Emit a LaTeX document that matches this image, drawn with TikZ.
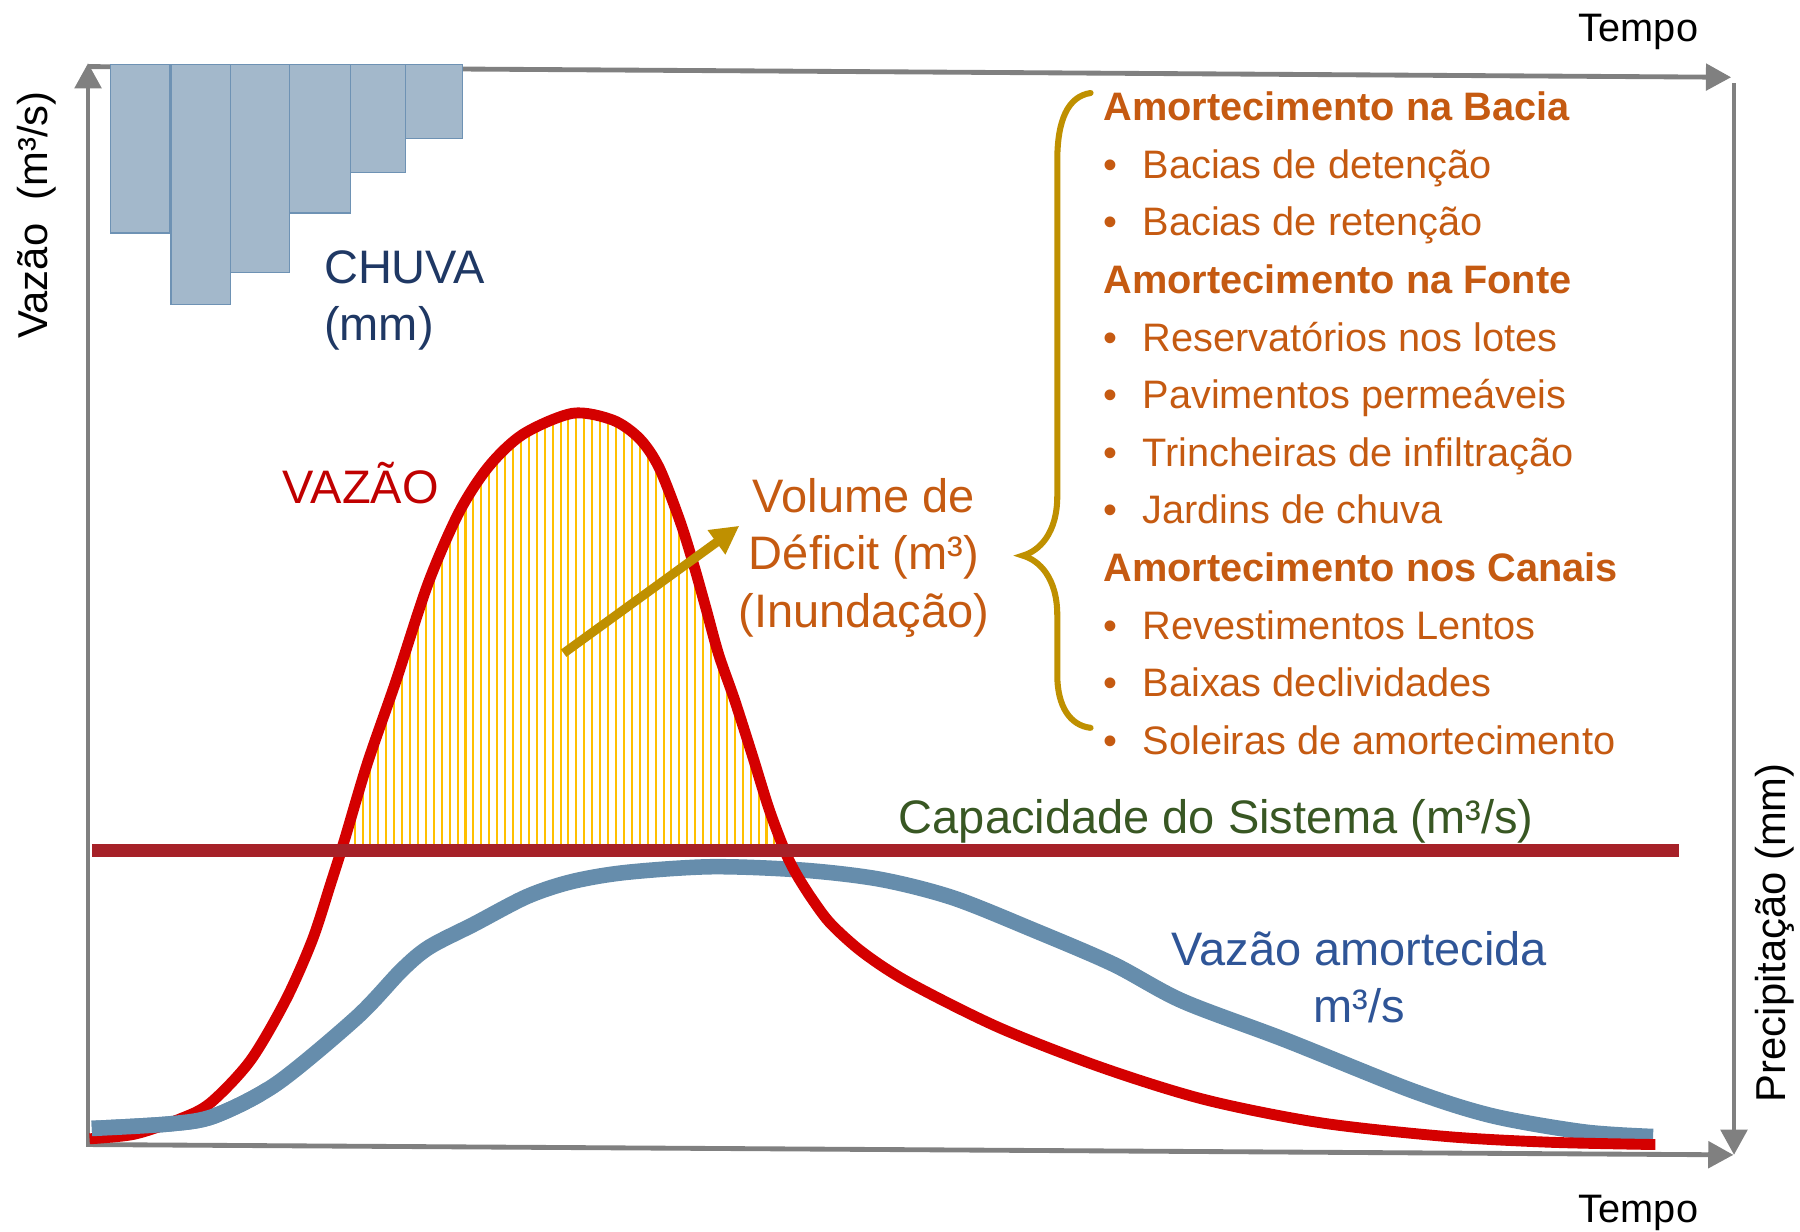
\documentclass[tikz,border=0pt]{standalone}
\usepackage{fontspec}
\setmainfont{Liberation Sans}
\usetikzlibrary{arrows.meta}
\definecolor{axisgray}{RGB}{128,128,128}
\definecolor{rainfill}{RGB}{163,184,203}
\definecolor{rainedge}{RGB}{110,146,180}
\definecolor{peakred}{RGB}{212,0,0}
\definecolor{labelred}{RGB}{192,0,0}
\definecolor{capred}{RGB}{166,33,40}
\definecolor{dampblue}{RGB}{102,141,172}
\definecolor{hatchyellow}{RGB}{255,192,0}
\definecolor{gold}{RGB}{191,144,0}
\definecolor{rust}{RGB}{197,90,17}
\definecolor{navy}{RGB}{31,56,100}
\definecolor{moss}{RGB}{56,87,35}
\definecolor{steel}{RGB}{47,85,151}
\def\vazaocurve{plot[smooth] coordinates {(78,992) (117,988) (156,975) (183,961) (218,924) (249,871) (272,819) (288,770) (300,732) (320,665) (345,593) (373,508) (400,446) (426,406) (456,378) (499,360) (534,366) (557,382) (574,407) (592,453) (604,491) (615,530) (626,570) (640,610) (656,660) (670,705) (684,742) (694,762) (708,784) (724,805) (752,830) (792,856) (870,895) (960,930) (1050,958) (1150,978) (1260,990) (1350,995) (1442,997)}}
\def\amortecidacurve{plot[smooth] coordinates {(80,983) (148,979) (187,972) (241,944) (311,886) (350,845) (374,825) (413,805) (459,781) (498,768) (545,760) (620,755) (700,758) (767,766) (830,782) (900,810) (970,840) (1030,872) (1120,906) (1230,950) (1300,972) (1380,986) (1440,990)}}
\newcommand{\bulletline}[3]{\node[listitem] (#1) at (995,#2) {\llap{\textbullet\hspace{12.7pt}}#3};}

\begin{document}
\begin{tikzpicture}[x=0.02cm, y=-0.02cm,
    axis/.style={axisgray, line width=2.4pt, -{Triangle[length=12.5pt,width=13pt]}},
    rainbar/.style={fill=rainfill, draw=rainedge, line width=0.6pt},
    axislabel/.style={inner sep=0pt, anchor=base west, font=\fontsize{19.7}{24}\selectfont},
    sidelabel/.style={inner sep=0pt, rotate=90, anchor=base, font=\fontsize{20.7}{24}\selectfont},
    biglabel/.style={inner sep=0pt, anchor=base, font=\fontsize{23.3}{28}\selectfont},
    heading/.style={inner sep=0pt, anchor=base west, text=rust, font=\fontsize{19.7}{24}\selectfont\bfseries},
    listitem/.style={inner sep=0pt, anchor=base west, text=rust, font=\fontsize{19.7}{24}\selectfont},
    hatchline/.style={hatchyellow, line width=1pt}]
  \useasboundingbox (0,0) rectangle (1568,1073);

  %axes
  \draw[axis] (76.7,999) -- (76.7,55);
  \draw[axis] (76.7,58) -- (1508,67.3);
  \draw[axis] (1510.5,72.6) -- (1510.5,1006);
  \draw[axis] (75.5,997) -- (1510,1006);

  %rain bars hanging from the top axis
  \foreach \xa/\xb/\yb in {96/148/203, 149/201/265, 201/252/237.5, 252/305/185.5, 305/353/150.6, 353/403/120.6}
    \draw[rainbar] (\xa,56) rectangle (\xb,\yb);

  %hatched volume above the capacity
  \begin{scope}
    \clip \vazaocurve -- cycle;
    \clip (0,0) rectangle (1568,735);
    \foreach \x in {302,308.9,...,690}
      \draw[hatchline] (\x,340) -- (\x,740);
  \end{scope}

  %hydrographs
  \draw[dampblue, line width=7.7pt] \amortecidacurve;
  \draw[peakred, line width=5.4pt] \vazaocurve;
  \begin{scope}
    \clip (0,930) rectangle (230,1073);
    \draw[dampblue, line width=7.7pt] \amortecidacurve;
  \end{scope}
  \draw[capred, line width=6.5pt] (80,741) -- (1463,741);

  %arrow to the deficit text
  \coordinate (deficitstart) at (491,569);
  \coordinate (deficittip) at (644,458);
  \draw[gold, line width=4.5pt, -{Triangle[length=14pt,width=14pt]}] (deficitstart) -- (deficittip);

  %brace
  \draw[gold, line width=3pt, line cap=round] (950,81) .. controls (930,84) and (921,105) .. (921,140) -- (921,432)
    .. controls (921,465) and (905,480) .. (891,484) .. controls (905,488) and (921,503) .. (921,536) -- (921,588)
    .. controls (921,615) and (932,632) .. (950,634);

  %labels
  \node[axislabel] (tempotop) at (1375,36) {Tempo};
  \node[axislabel] (tempobottom) at (1375,1065) {Tempo};
  \node[sidelabel] (vazaoaxis) at (41.7,187.5) {Vazão~ (m³/s)};
  \node[sidelabel] (precipaxis) at (1555,812.5) {Precipitação (mm)};
  \node[biglabel, anchor=base west, text=navy] (chuva) at (282,247) {CHUVA};
  \node[biglabel, anchor=base west, text=navy] (chuvamm) at (282,296.5) {(mm)};
  \node[biglabel, anchor=base west, text=labelred] (vazao) at (246,439) {VAZÃO};
  \node[biglabel, text=rust] (volume) at (752.5,446) {Volume de};
  \node[biglabel, text=rust] (deficit) at (752.5,496.5) {Déficit (m³)};
  \node[biglabel, text=rust] (inundacao) at (752.5,546.5) {(Inundação)};
  \node[biglabel, text=moss] (capacidade) at (1059.5,726) {Capacidade do Sistema (m³/s)};
  \node[biglabel, text=steel] (amortecida) at (1184,841) {Vazão amortecida};
  \node[biglabel, text=steel] (amortecidaunit) at (1184,891) {m³/s};

  %list of measures
  \node[heading] (bacia) at (961,105) {Amortecimento na Bacia};
  \bulletline{detencao}{155.2}{Bacias de detenção}
  \bulletline{retencao}{205.4}{Bacias de retenção}
  \node[heading] (fonte) at (961,255.6) {Amortecimento na Fonte};
  \bulletline{lotes}{305.8}{Reservatórios nos lotes}
  \bulletline{pavimentos}{356}{Pavimentos permeáveis}
  \bulletline{trincheiras}{406.2}{Trincheiras de infiltração}
  \bulletline{jardins}{456.4}{Jardins de chuva}
  \node[heading] (canais) at (961,506.6) {Amortecimento nos Canais};
  \bulletline{revestimentos}{556.8}{Revestimentos Lentos}
  \bulletline{declividades}{607}{Baixas declividades}
  \bulletline{soleiras}{657.2}{Soleiras de amortecimento}
\end{tikzpicture}
\end{document}
